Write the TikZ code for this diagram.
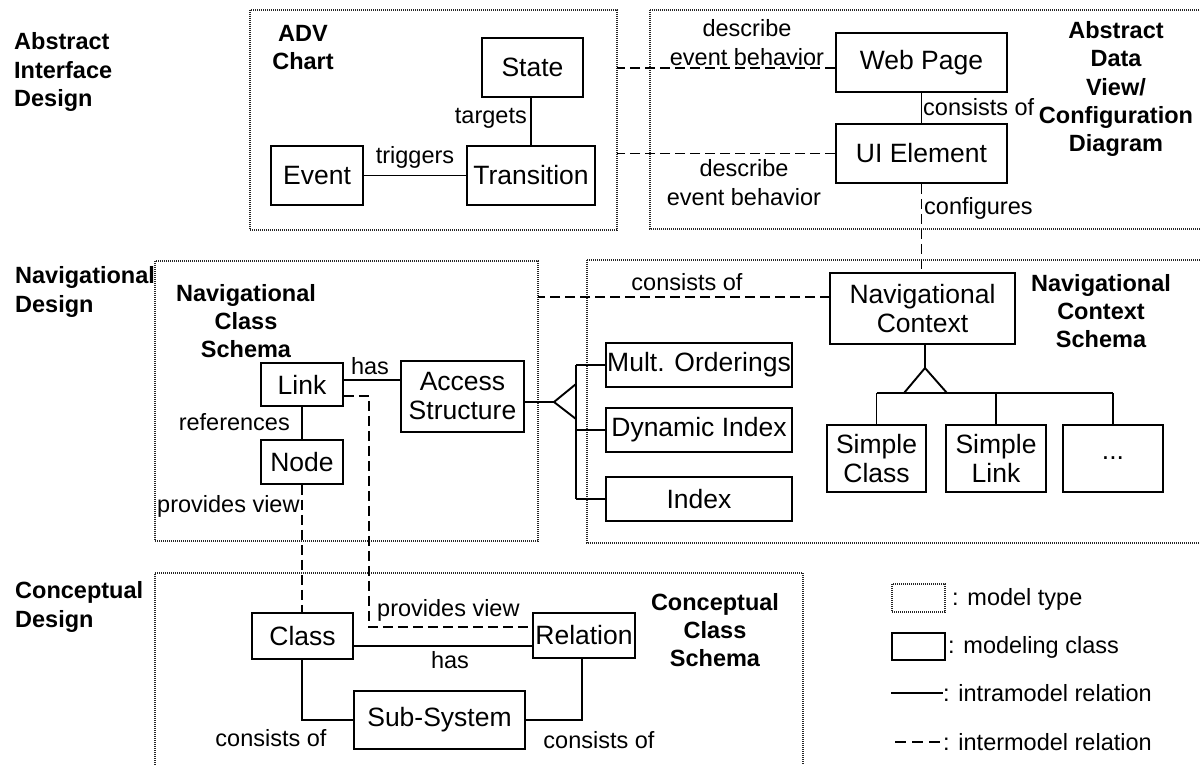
\documentclass[tikz,border=0pt]{standalone}
\usepackage{fontspec}
\setmainfont{Liberation Sans}
\usetikzlibrary{calc}
\newcommand\bxfont{\fontsize{26.5}{29}\selectfont}
\newcommand\lbfont{\fontsize{23.5}{29}\selectfont}
\newcommand\ttlfont{\fontsize{23.5}{28.3}\selectfont\bfseries}
\tikzset{
  modeltype/.style={draw=black!85, line width=1.1pt, dash pattern=on 1pt off 1pt},
  cls/.style={draw, line width=1.9pt, rectangle, inner sep=0pt, align=center, font=\bxfont},
  rel/.style={line width=1.9pt},
  inter/.style={line width=1.9pt, dash pattern=on 10pt off 5pt},
  lbl/.style={inner sep=0pt, font=\lbfont, align=center},
  ttl/.style={inner sep=0pt, font=\ttlfont, align=center},
  ttlleft/.style={inner sep=0pt, font=\ttlfont, align=left, anchor=west},
}
\begin{document}
\begin{tikzpicture}[x=1pt, y=-1pt]
\useasboundingbox (0,0) rectangle (1200,765);

% model types (dotted frames)
\draw[modeltype] (250,10) rectangle (617,230);
\draw[modeltype] (650,10) -- (650,229) -- (1210,229);
\draw[modeltype] (650,10) -- (1210,10);
\draw[modeltype] (155,261) rectangle (538,541);
\draw[modeltype] (587,260) -- (587,543) -- (1210,543);
\draw[modeltype] (587,260) -- (1210,260);
\draw[modeltype] (155,775) -- (155,573) -- (803,573) -- (803,775);
\coordinate (advE) at (617,120);
\coordinate (ncsE) at (538,400);

% design level titles
\node[ttlleft] (tAI) at (14,72) {Abstract\\Interface\\Design};
\node[ttlleft] (tND) at (15,292) {Navigational\\Design};
\node[ttlleft] (tCD) at (15,607) {Conceptual\\Design};

% model type titles
\node[ttl] (tADV) at (303,47.5) {ADV\\Chart};
\node[ttl] (tADC) at (1116,89) {Abstract\\Data\\View/\\Configuration\\Diagram};
\node[ttl] (tNCS) at (246,321) {Navigational\\Class\\Schema};
\node[ttl] (tNXS) at (1101,311) {Navigational\\Context\\Schema};
\node[ttl] (tCCS) at (715,630) {Conceptual\\Class\\Schema};

% ADV chart
\node[cls, minimum width=101, minimum height=59] (state) at (532.5,67.5) {State};
\node[cls, minimum width=128, minimum height=59] (trans) at (531,175.5) {Transition};
\node[cls, minimum width=92, minimum height=59] (event) at (317,175.5) {Event};
\draw[rel] (trans.north) -- (trans.north |- state.south);
\draw[rel] (event.east) -- (event.east -| trans.west);
\node[lbl, anchor=east] (lTargets) at (527,118) {targets};
\node[lbl] (lTriggers) at (415,157) {triggers};

% abstract data view
\node[cls, minimum width=171, minimum height=59] (web) at (921.5,62.5) {Web Page};
\node[cls, minimum width=171, minimum height=59] (ui) at (921.5,153.5) {UI Element};
\draw[rel] (web.south) -- (ui.north);
\node[lbl, anchor=west] (lCons1) at (923,107) {consists of};
\coordinate (wpL) at ($(web.west)+(0,5.5)$);
\draw[inter] (wpL) -- (wpL -| advE);
\draw[inter] (ui.west) -- (ui.west -| advE);
\node[lbl] (lDesc1) at (747,42.5) {describe\\event behavior};
\node[lbl] (lDesc2) at (744,182.5) {describe\\event behavior};

% navigational context schema
\node[cls, minimum width=185, minimum height=71] (navctx) at (922.5,308.5) {Navigational\\Context};
\draw[inter] (ui.south) -- (ui.south |- navctx.north);
\node[lbl, anchor=west] (lConf) at (924,208) {configures};
\coordinate (ncL) at (830,297);
\draw[inter] (ncL) -- (ncL -| ncsE);
\node[lbl] (lCons2) at (687,282) {consists of};

\node[cls, minimum width=99, minimum height=67] (sclass) at (876.5,458.5) {Simple\\Class};
\node[cls, minimum width=100, minimum height=67] (slink) at (996,458.5) {Simple\\Link};
\node[cls, minimum width=100, minimum height=67] (sdots) at (1113,458.5) {...};
\coordinate (capex) at (925,368);
\coordinate (cbar) at (925,393);
\draw[rel] (navctx.south -| capex) -- (capex);
\draw[rel, line join=miter] (capex) -- (904,393) -- (947,393) -- cycle;
\draw[rel] (sclass.north |- cbar) -- (sdots.north |- cbar);
\draw[rel] (sclass.north |- cbar) -- (sclass.north);
\draw[rel] (slink.north |- cbar) -- (slink.north);
\draw[rel] (sdots.north |- cbar) -- (sdots.north);

% navigational class schema
\node[cls, minimum width=82, minimum height=43] (link) at (302,384.5) {Link};
\node[cls, minimum width=82, minimum height=44] (node) at (302,462) {Node};
\node[cls, minimum width=123, minimum height=71] (access) at (462.5,396.5) {Access\\Structure};
\coordinate (lkH) at ($(link.east)+(0,-4.5)$);
\draw[rel] (lkH) -- (lkH -| access.west);
\node[lbl] (lHas1) at (370,366) {has};
\draw[rel] (link.south) -- (node.north);
\node[lbl, anchor=east] (lRefs) at (290,422) {references};

\node[cls, minimum width=186, minimum height=44] (mult) at (699,365) {Mult. Orderings};
\node[cls, minimum width=186, minimum height=44] (dyn) at (699,430) {Dynamic Index};
\node[cls, minimum width=186, minimum height=44] (index) at (699,499) {Index};
\coordinate (aapex) at (554,402);
\coordinate (bus) at (576,402);
\draw[rel] (access.east |- aapex) -- (aapex);
\draw[rel] (576,384) -- (aapex) -- (576,419);
\draw[rel] (mult.west -| bus) -- (index.west -| bus);
\draw[rel] (mult.west -| bus) -- (mult.west);
\draw[rel] (dyn.west -| bus) -- (dyn.west);
\draw[rel] (index.west -| bus) -- (index.west);

% conceptual class schema
\node[cls, minimum width=101, minimum height=46] (class) at (302.5,636) {Class};
\node[cls, minimum width=102, minimum height=45] (relation) at (584,635.5) {Relation};
\node[cls, minimum width=171, minimum height=58] (subsys) at (439.5,720) {Sub-System};
\coordinate (clH) at ($(class.east)+(0,10)$);
\draw[rel] (clH) -- (clH -| relation.west);
\node[lbl] (lHas2) at (450,660) {has};
\coordinate (clB) at (302,659);
\draw[rel] (clB) -- (clB |- subsys.west) -- (subsys.west);
\coordinate (reB) at (582,658);
\draw[rel] (reB) -- (reB |- subsys.east) -- (subsys.east);
\node[lbl] (lCons3) at (271,738) {consists of};
\node[lbl] (lCons4) at (599,740) {consists of};

% intermodel relations to the conceptual level
\draw[inter] (node.south) -- (node.south |- class.north);
\node[lbl, anchor=west] (lView1) at (157,506) {provides view};
\coordinate (lkV) at ($(link.east)+(0,11.5)$);
\coordinate (lkC) at (369,627);
\draw[inter] (lkV) -- (lkV -| lkC) -- (lkC) -- (lkC -| relation.west);
\node[lbl, anchor=west] (lView2) at (377,610) {provides view};

% legend
\node[draw=black!85, line width=1.1pt, dash pattern=on 1pt off 1pt, minimum width=53, minimum height=28, inner sep=0pt] (legA) at (918.5,598) {};
\node[lbl, anchor=west] (legAt) at (952,599) {: model type};
\node[draw, line width=1.9pt, minimum width=53, minimum height=27, inner sep=0pt] (legB) at (918.5,646.5) {};
\node[lbl, anchor=west] (legBt) at (948,647) {: modeling class};
\node[lbl, anchor=west] (legCt) at (943,693) {: intramodel relation};
\draw[rel] (legCt.west -| legB.west) -- (legCt.west);
\node[lbl, anchor=west] (legDt) at (943,742) {: intermodel relation};
\coordinate (legDs) at (895,742);
\draw[line width=1.9pt, dash pattern=on 11pt off 6pt] (legDs) -- (legDt.west);
\end{tikzpicture}
\end{document}
